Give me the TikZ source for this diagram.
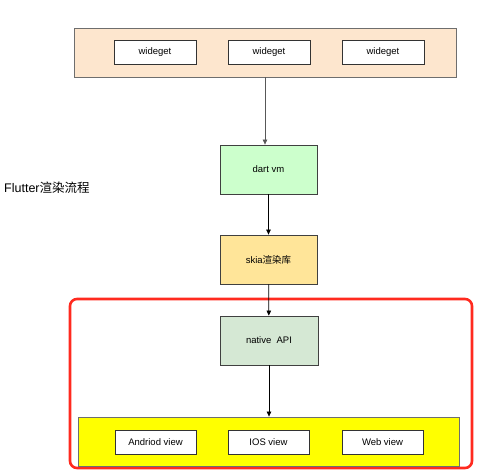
\documentclass[tikz,border=0pt]{standalone}
\usepackage{fontspec}
\setmainfont{Liberation Sans}
\newfontfamily\cjk{Noto Sans CJK SC}
\usetikzlibrary{positioning, arrows.meta}
\definecolor{peachbg}{HTML}{FDE6CE}
\definecolor{greenvm}{HTML}{CCFFCC}
\definecolor{skiaorange}{HTML}{FFE599}
\definecolor{apigreen}{HTML}{D5E8D4}
\definecolor{viewyellow}{HTML}{FFFF00}
\definecolor{framered}{HTML}{FF2A1F}
\definecolor{edgegray}{HTML}{6E6E6E}

\begin{document}
\begin{tikzpicture}[
  x=1pt, y=-1pt,
  groupBox/.style={draw=edgegray, line width=0.8pt, minimum width=382pt, minimum height=49pt, inner sep=0pt},
  itemBox/.style={draw=black!80, line width=0.8pt, fill=white, minimum width=82pt, minimum height=24pt, inner sep=0pt, font=\fontsize{9.5}{11}\selectfont},
  stageBox/.style={draw=black!75, line width=0.8pt, minimum width=97pt, minimum height=49pt, inner sep=0pt, font=\fontsize{9.5}{11}\selectfont},
  arrow/.style={-{Triangle[length=5pt, width=4.5pt]}, line width=0.7pt}
]
\useasboundingbox (0,0) rectangle (492,472);

% top: widgets
\node[groupBox, fill=peachbg] (widgets) at (265,52.5) {};
\node[itemBox] (w1) at (155,52) {wideget};
\node[itemBox] (w2) at (269,52) {wideget};
\node[itemBox] (w3) at (383,52) {wideget};

% title
\node[anchor=west, font=\fontsize{12.5}{14}\selectfont, inner sep=0pt] (title) at (4,188) {Flutter\cjk{渲染流程}};

% middle stages
\node[stageBox, fill=greenvm] (dartvm) at (268.5,169.5) {dart vm};
\node[stageBox, fill=skiaorange] (skia) at (268.5,259.5) {skia\cjk{渲染库}};

% native part
\draw[framered, line width=2.6pt, rounded corners=7pt] (70,299) rectangle (472,468);
\node[stageBox, fill=apigreen, minimum width=98pt] (native) at (269,340.5) {native\ \ API};
\node[groupBox, fill=viewyellow, minimum width=381pt] (views) at (268.5,441.5) {};
\node[itemBox, minimum width=81pt] (android) at (155.5,442) {Andriod view};
\node[itemBox, minimum width=81pt] (ios) at (268.5,442) {IOS view};
\node[itemBox, minimum width=81pt] (web) at (382.5,442) {Web view};

% arrows
\draw[arrow, draw=edgegray!80!black] (widgets.south) -- (widgets.south |- dartvm.north);
\draw[arrow] (dartvm) -- (skia);
\draw[arrow] (skia) -- (native);
\draw[arrow] (native) -- (native |- views.north);

\end{tikzpicture}
\end{document}
